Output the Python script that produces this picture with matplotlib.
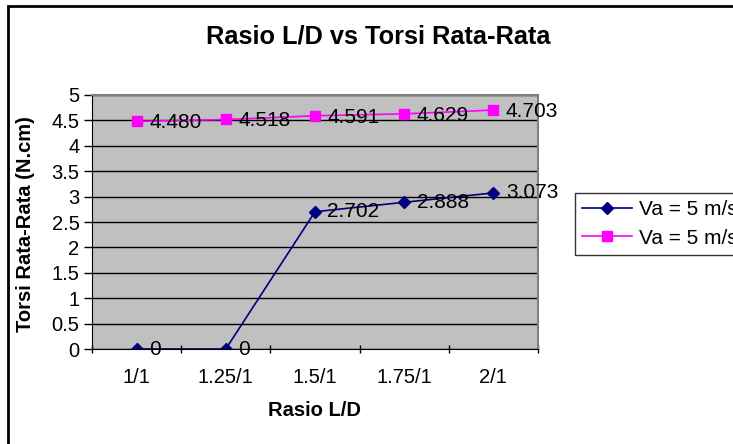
import matplotlib.pyplot as plt
from matplotlib.patches import Rectangle

# data
categorias = ['1/1', '1.25/1', '1.5/1', '1.75/1', '2/1']
torsi_a = [0, 0, 2.702, 2.888, 3.073]
torsi_b = [4.480, 4.518, 4.591, 4.629, 4.703]
label_a = ['0', '0', '2.702', '2.888', '3.073']
label_b = ['4.480', '4.518', '4.591', '4.629', '4.703']
nomes = ['Va = 5 m/s', 'Va = 5 m/s']

plt.rcParams['font.family'] = ['Liberation Sans', 'DejaVu Sans']

W, H = 733, 444
fig = plt.figure(figsize=(W / 100, H / 100), dpi=100)

# borda do grafico (cortada a direita e embaixo, como no original)
fig.patches.append(Rectangle((8 / W, -0.05), 1.0, 1 - 6 / H + 0.05, transform=fig.transFigure,
                             fill=False, edgecolor='black', linewidth=2))

ax = fig.add_axes([92 / W, 95 / H, 446 / W, 254 / H])
ax.set_facecolor('#c0c0c0')

x = list(range(len(categorias)))
ax.plot(x, torsi_a, color='#000080', marker='D', markersize=6, linewidth=1.2, label=nomes[0])
ax.plot(x, torsi_b, color='#ff00ff', marker='s', markersize=7, linewidth=1.2, label=nomes[1])

for xi, yi, t in zip(x, torsi_a, label_a):
    ax.annotate(t, (xi, yi), xytext=(9, 0), textcoords='offset points', va='center', fontsize=15)
for xi, yi, t in zip(x, torsi_b, label_b):
    ax.annotate(t, (xi, yi), xytext=(9, -1), textcoords='offset points', va='center', fontsize=15)

ax.set_xlim(-0.5, 4.5)
ax.set_ylim(0, 5)
ax.set_yticks([0, 0.5, 1, 1.5, 2, 2.5, 3, 3.5, 4, 4.5, 5])
ax.set_yticklabels(['0', '0.5', '1', '1.5', '2', '2.5', '3', '3.5', '4', '4.5', '5'])
ax.set_xticks(x)
ax.set_xticklabels(categorias)
ax.set_xticks([-0.5, 0.5, 1.5, 2.5, 3.5, 4.5], minor=True)
ax.tick_params(axis='x', which='major', length=0, pad=14, labelsize=14.5)
ax.tick_params(axis='x', which='minor', length=6, width=1, direction='inout')
ax.tick_params(axis='y', length=6, width=1, labelsize=14.5, pad=3)
ax.grid(axis='y', color='black', linewidth=1)
ax.set_axisbelow(True)

for s in ['top', 'right']:
    ax.spines[s].set_color('#808080')
    ax.spines[s].set_linewidth(1.5)
for s in ['left', 'bottom']:
    ax.spines[s].set_color('black')

fig.text(378 / W, 1 - 37 / H, 'Rasio L/D vs Torsi Rata-Rata', ha='center', va='center',
         fontsize=18.3, fontweight='bold')
ax.set_xlabel('Rasio L/D', fontsize=14.5, fontweight='bold', labelpad=10)
ax.set_ylabel('Torsi Rata-Rata (N.cm)', fontsize=14.5, fontweight='bold')
ax.yaxis.set_label_coords(-0.128, 0.49)

leg = fig.legend(loc='upper left', bbox_to_anchor=(575 / W, 1 - 193 / H), fontsize=15,
                 frameon=True, fancybox=False, edgecolor='black', handlelength=2.4,
                 borderpad=0.35, labelspacing=0.45, handletextpad=0.3, borderaxespad=0)
leg.get_frame().set_linewidth(1)

plt.savefig('out.png', dpi=100)
